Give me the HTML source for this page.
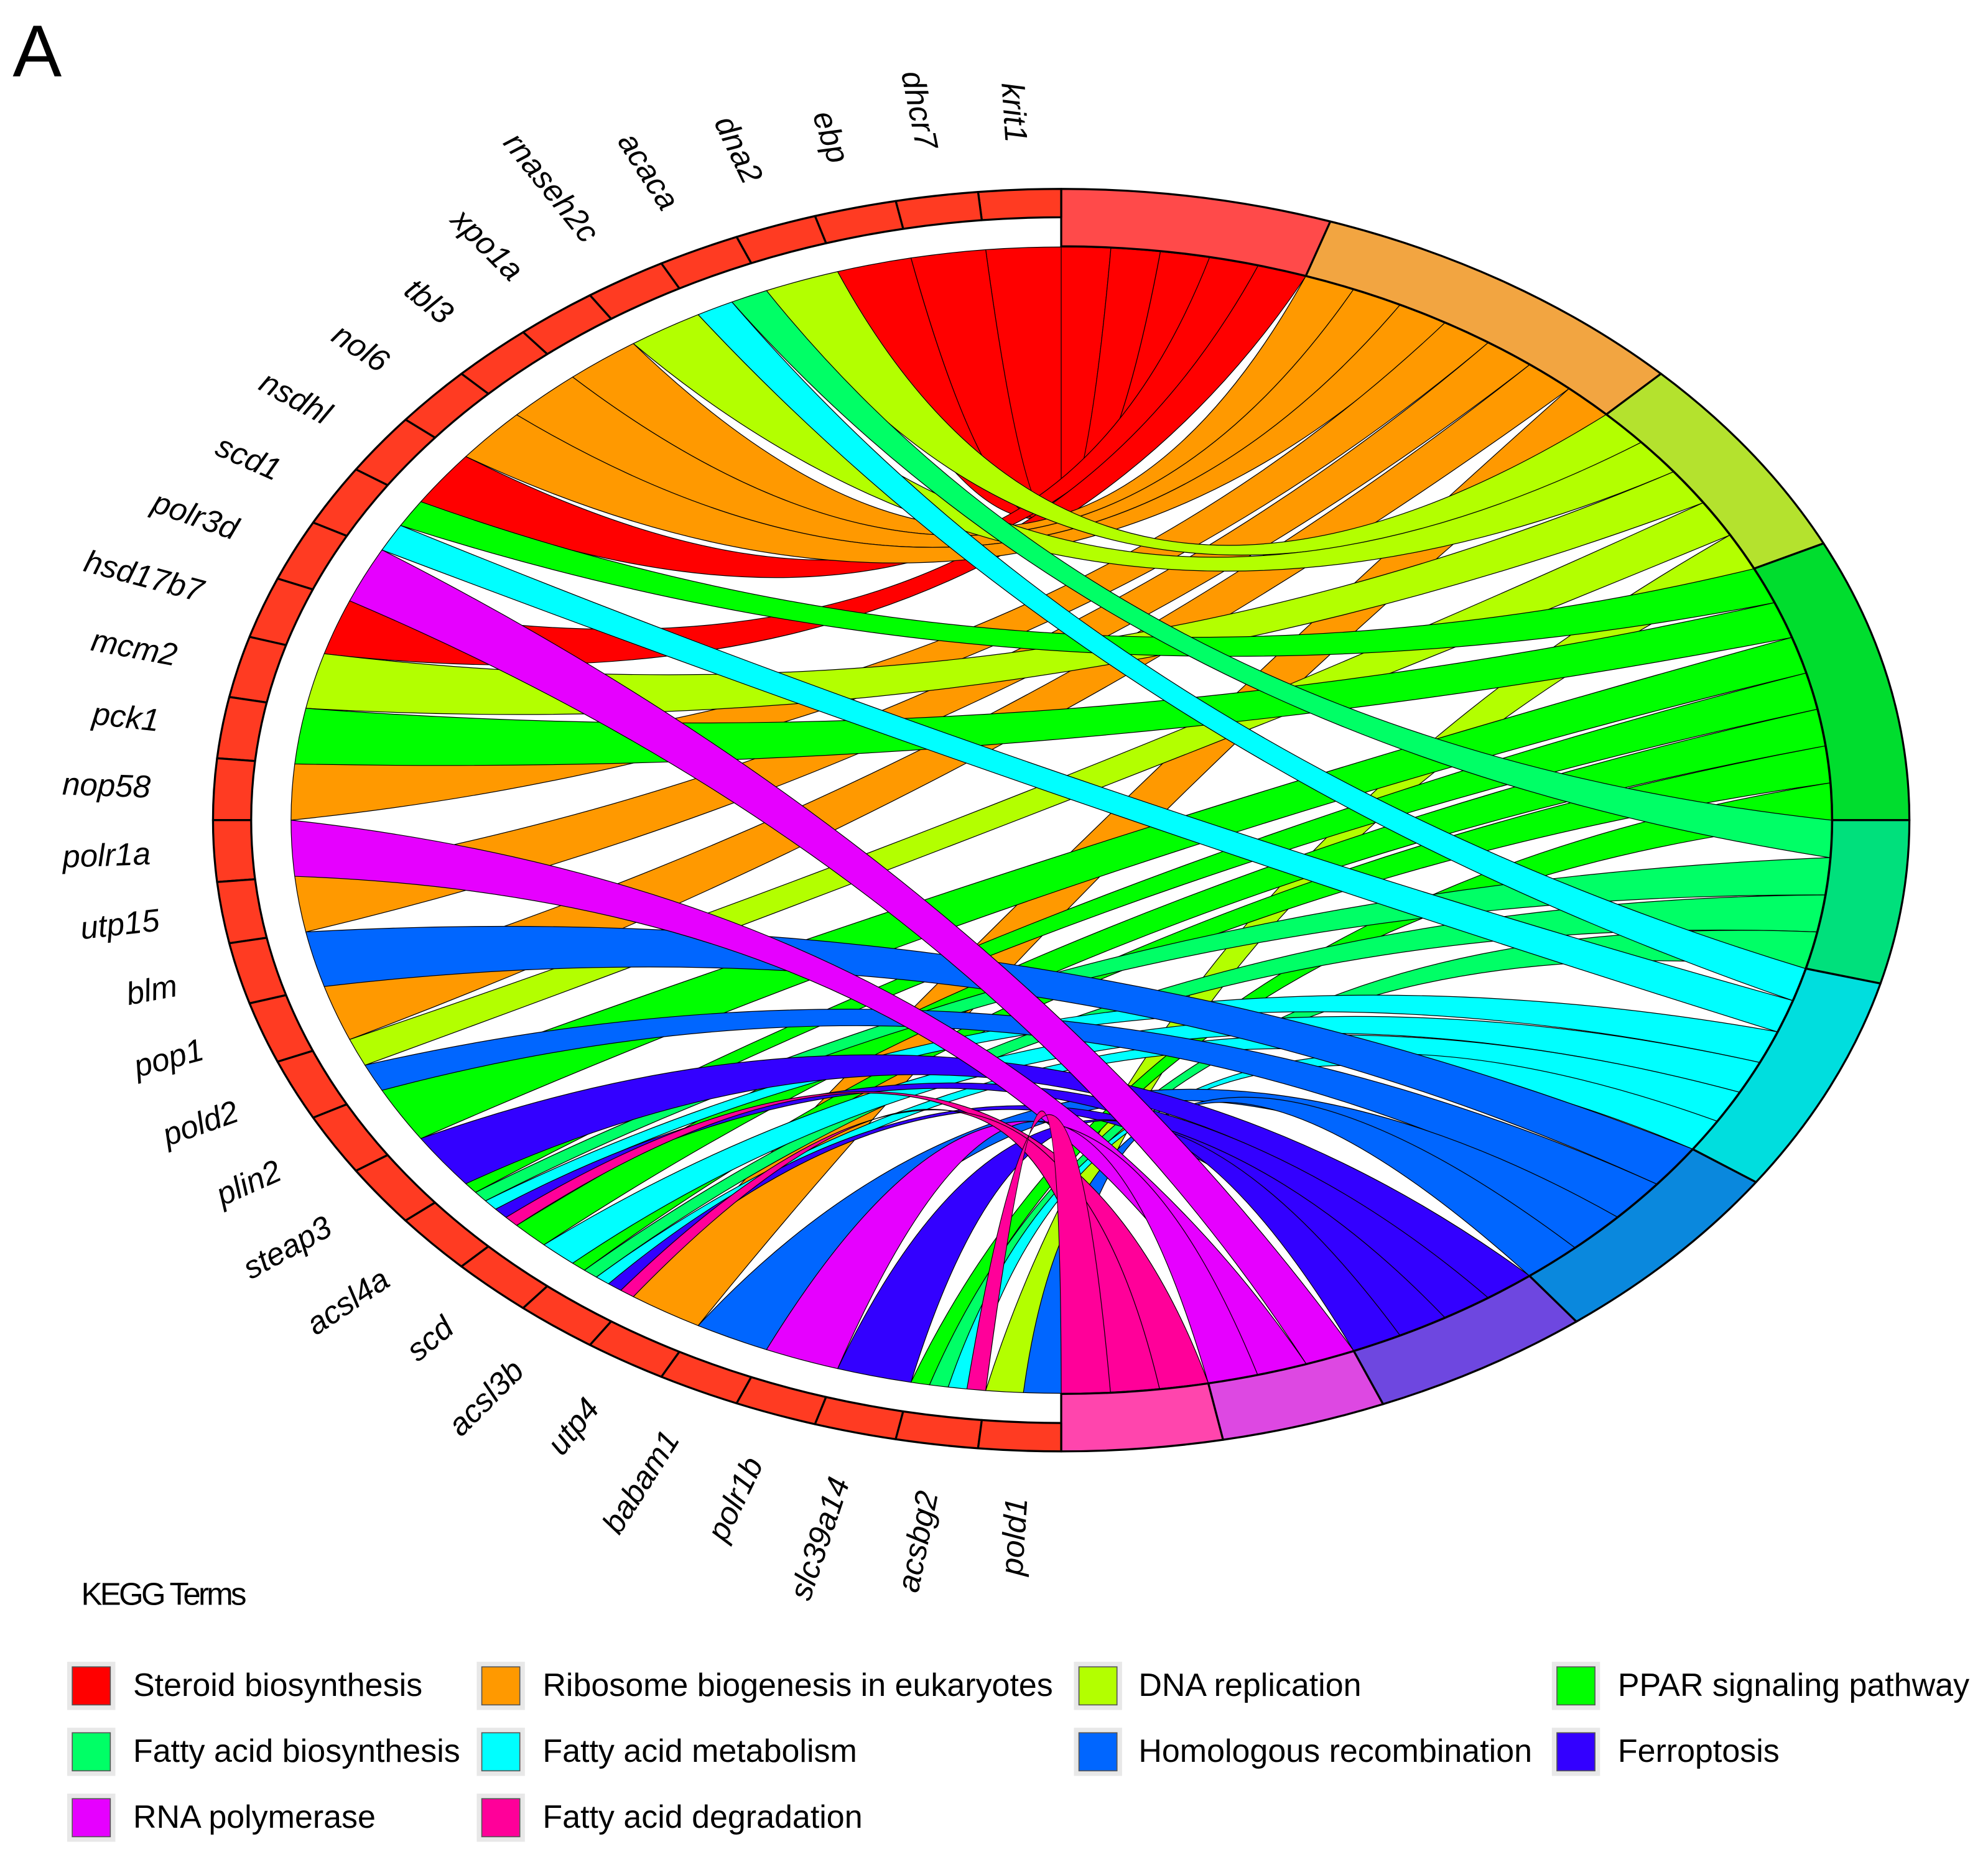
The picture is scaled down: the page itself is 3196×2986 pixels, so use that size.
<!DOCTYPE html>
<html><head><meta charset="utf-8"><style>
html,body{margin:0;padding:0;background:#fff}
svg{display:block}
.g{font-family:"Liberation Sans",sans-serif;font-style:italic;font-size:25px;fill:#000}
.lg{font-family:"Liberation Sans",sans-serif;font-size:25.5px;fill:#000}
</style></head><body>
<svg id="s" xmlns="http://www.w3.org/2000/svg" width="3196" height="2986" viewBox="0 0 1568 1465" preserveAspectRatio="none">
<rect width="1568" height="1465" fill="#fff"/>
<text x="10" y="60" font-family="Liberation Sans, sans-serif" font-size="58">A</text>
<g id="chords"></g>
<g id="rings"></g>
<g id="labels">
<text class="g">krit1</text><text class="g">dhcr7</text><text class="g">ebp</text><text class="g">dna2</text>
<text class="g">acaca</text><text class="g">rnaseh2c</text><text class="g">xpo1a</text><text class="g">tbl3</text>
<text class="g">nol6</text><text class="g">nsdhl</text><text class="g">scd1</text><text class="g">polr3d</text>
<text class="g">hsd17b7</text><text class="g">mcm2</text><text class="g">pck1</text><text class="g">nop58</text>
<text class="g">polr1a</text><text class="g">utp15</text><text class="g">blm</text><text class="g">pop1</text>
<text class="g">pold2</text><text class="g">plin2</text><text class="g">steap3</text><text class="g">acsl4a</text>
<text class="g">scd</text><text class="g">acsl3b</text><text class="g">utp4</text><text class="g">babam1</text>
<text class="g">polr1b</text><text class="g">slc39a14</text><text class="g">acsbg2</text><text class="g">pold1</text>
</g>
<text x="64" y="1266" font-family="Liberation Sans, sans-serif" font-size="25" letter-spacing="-1.8">KEGG Terms</text>
<g id="legend">
<rect x="53" y="1311" width="38" height="38" fill="#e8e8e8"/><rect x="57" y="1315" width="30" height="30" fill="#ff0000" stroke="#555" stroke-width="0.8"/><text class="lg" x="105" y="1338">Steroid biosynthesis</text>
<rect x="376" y="1311" width="38" height="38" fill="#e8e8e8"/><rect x="380" y="1315" width="30" height="30" fill="#ff9900" stroke="#555" stroke-width="0.8"/><text class="lg" x="428" y="1338">Ribosome biogenesis in eukaryotes</text>
<rect x="847" y="1311" width="38" height="38" fill="#e8e8e8"/><rect x="851" y="1315" width="30" height="30" fill="#b3ff00" stroke="#555" stroke-width="0.8"/><text class="lg" x="898" y="1338">DNA replication</text>
<rect x="1224" y="1311" width="38" height="38" fill="#e8e8e8"/><rect x="1228" y="1315" width="30" height="30" fill="#00ff00" stroke="#555" stroke-width="0.8"/><text class="lg" x="1276" y="1338">PPAR signaling pathway</text>
<rect x="53" y="1363" width="38" height="38" fill="#e8e8e8"/><rect x="57" y="1367" width="30" height="30" fill="#00ff66" stroke="#555" stroke-width="0.8"/><text class="lg" x="105" y="1390">Fatty acid biosynthesis</text>
<rect x="376" y="1363" width="38" height="38" fill="#e8e8e8"/><rect x="380" y="1367" width="30" height="30" fill="#00ffff" stroke="#555" stroke-width="0.8"/><text class="lg" x="428" y="1390">Fatty acid metabolism</text>
<rect x="847" y="1363" width="38" height="38" fill="#e8e8e8"/><rect x="851" y="1367" width="30" height="30" fill="#0066ff" stroke="#555" stroke-width="0.8"/><text class="lg" x="898" y="1390">Homologous recombination</text>
<rect x="1224" y="1363" width="38" height="38" fill="#e8e8e8"/><rect x="1228" y="1367" width="30" height="30" fill="#3300ff" stroke="#555" stroke-width="0.8"/><text class="lg" x="1276" y="1390">Ferroptosis</text>
<rect x="53" y="1415" width="38" height="38" fill="#e8e8e8"/><rect x="57" y="1419" width="30" height="30" fill="#e600ff" stroke="#555" stroke-width="0.8"/><text class="lg" x="105" y="1442">RNA polymerase</text>
<rect x="376" y="1415" width="38" height="38" fill="#e8e8e8"/><rect x="380" y="1419" width="30" height="30" fill="#ff0099" stroke="#555" stroke-width="0.8"/><text class="lg" x="428" y="1442">Fatty acid degradation</text>
</g>
</svg>
<script>
(function(){
var NS="http://www.w3.org/2000/svg";
var cx=837,cy=647,RX=669,RY=498,R=0.908;
function U(d){var t=d*Math.PI/180;return [Math.cos(t),Math.sin(t)];}
function P(r,d){var u=U(d);return [cx+RX*r*u[0],cy+RY*r*u[1]];}
function pt(p){return p[0].toFixed(2)+" "+p[1].toFixed(2);}
function arc(r,a1,a2){var p=P(r,a2);var lg=Math.abs(a2-a1)>180?1:0;var sw=a2>a1?1:0;return "A"+(RX*r).toFixed(2)+" "+(RY*r).toFixed(2)+" 0 "+lg+" "+sw+" "+pt(p);}
function ctrl(a,b){var ua=U(a),ub=U(b);var dx=ua[0]-ub[0],dy=ua[1]-ub[1];var d=Math.sqrt(dx*dx+dy*dy);var mu=0.35*(d/2);
 var mx=mu*R*(ua[0]+ub[0])/2,my=mu*R*(ua[1]+ub[1])/2;return [cx+RX*mx,cy+RY*my];}
function mk(parent,d,fill,sw){var e=document.createElementNS(NS,"path");e.setAttribute("d",d);e.setAttribute("fill",fill);e.setAttribute("stroke","#000");e.setAttribute("stroke-width",sw);e.setAttribute("stroke-linejoin","round");parent.appendChild(e);}
var cc=["#ff0000","#ff9900","#b3ff00","#00ff00","#00ff66","#00ffff","#0066ff","#3300ff","#e600ff","#ff0099"];
var tc=["#ff4a4a","#f2a541","#b4e22e","#00dd2e","#00e07c","#00dede","#0a88dd","#6e47e0","#dd48e2","#ff45ad"];
var tb=[-90,-71.5,-45,-26,0,15,35,52.6,67.7,79,90];
var G=[[0],[0],[0],[2],[4,5],[2],[1],[1],[1],[0],[3,5],[8],[0],[2],[3],[1],[8],[1],[6],[1],[2,6],[3],[7],[3,4,5,7,9],[3,5],[3,4,5,7,9],[1],[6],[8],[7],[3,4,5,9],[2,6]];
var tl=[];for(var t=0;t<10;t++)tl.push([]);
G.forEach(function(ts,g){ts.forEach(function(t){tl[t].push(g);});});
var tslot={};
for(var t=0;t<10;t++){var n=tl[t].length,w=(tb[t+1]-tb[t])/n;tl[t].forEach(function(g,k){tslot[g+"_"+t]=[tb[t]+k*w,tb[t]+(k+1)*w];});}
var ch=document.getElementById("chords");
var gw=180/32;
var list=[];
G.forEach(function(ts,g){var st=-90-g*gw,w=gw/ts.length;
 ts.forEach(function(t,j){var a1=st-j*w,a2=st-(j+1)*w;var b=tslot[g+"_"+t];
  var c1=ctrl(a1,b[0]),c2=ctrl(a2,b[1]);
  var d="M"+pt(P(R,a1))+" Q"+pt(c1)+" "+pt(P(R,b[0]))+" "+arc(R,b[0],b[1])+" Q"+pt(c2)+" "+pt(P(R,a2))+" "+arc(R,a2,a1)+"Z";
  list.push([t,g,d]);});});
list.sort(function(x,y){return x[0]-y[0]||x[1]-y[1];});
list.forEach(function(l){mk(ch,l[2],cc[l[0]],0.6);});
var rg=document.getElementById("rings");
for(var t=0;t<10;t++){var b1=tb[t],b2=tb[t+1];
 mk(rg,"M"+pt(P(1,b1))+" "+arc(1,b1,b2)+" L"+pt(P(0.909,b2))+" "+arc(0.909,b2,b1)+"Z",tc[t],1.6);}
for(var g=0;g<32;g++){var a1=-90-g*gw,a2=-90-(g+1)*gw;
 mk(rg,"M"+pt(P(1,a1))+" "+arc(1,a1,a2)+" L"+pt(P(0.955,a2))+" "+arc(0.955,a2,a1)+"Z","#ff3b22",1.6);}
var labs=document.getElementById("labels").children;
for(var g=0;g<labs.length;g++){var a=-90-(g+0.5)*gw;var p=P(1.075,a);var t=a*Math.PI/180;
 var sa=Math.atan2(RY*Math.sin(t),RX*Math.cos(t))*180/Math.PI+180;
 var e=labs[g];e.setAttribute("x",p[0].toFixed(2));e.setAttribute("y",p[1].toFixed(2));
 e.setAttribute("text-anchor","end");e.setAttribute("dominant-baseline","central");
 e.setAttribute("transform","rotate("+sa.toFixed(2)+" "+p[0].toFixed(2)+" "+p[1].toFixed(2)+")");}
})();
</script>
</body></html>
